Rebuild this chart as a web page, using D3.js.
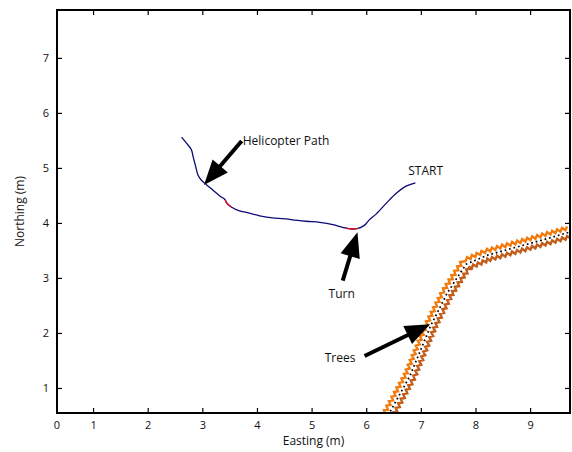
<!DOCTYPE html>
<html>
<head>
<meta charset="utf-8">
<script src="https://cdn.jsdelivr.net/npm/d3@7"></script>
<style>
  body { margin: 0; background: #fff; }
  text { font-family: "Open Sans", "Noto Sans", sans-serif; }
</style>
</head>
<body>
<div id="chart"></div>
<script>
// axis limits and ticks (metres)
var xLimits = [0.34, 9.73];
var yLimits = [0.545, 7.87];
var xTicks = [1, 2, 3, 4, 5, 6, 7, 8, 9];
var yTicks = [1, 2, 3, 4, 5, 6, 7];

// helicopter path, easting / northing
var pathEast  = [2.62, 2.71, 2.80, 2.83, 2.88, 2.92, 2.98, 3.08, 3.20, 3.32, 3.42, 3.44, 3.53, 3.68, 3.81, 4.05, 4.29, 4.57, 4.63, 4.90, 5.15, 5.39, 5.57, 5.73, 5.85, 5.97, 6.06, 6.18, 6.37, 6.55, 6.73, 6.90];
var pathNorth = [5.56, 5.45, 5.33, 5.21, 5.02, 4.87, 4.78, 4.69, 4.59, 4.49, 4.42, 4.37, 4.29, 4.22, 4.19, 4.13, 4.09, 4.07, 4.06, 4.03, 4.01, 3.97, 3.92, 3.89, 3.90, 3.96, 4.06, 4.16, 4.36, 4.54, 4.67, 4.73];

// short red stretches on the path
var redEast  = [[3.42, 3.44, 3.53], [5.62, 5.73, 5.85]];
var redNorth = [[4.42, 4.37, 4.29], [3.91, 3.89, 3.90]];

// tree line
var treeEast  = [6.40, 6.80, 7.18, 7.48, 7.72, 7.83, 8.21, 8.64, 9.19, 9.75];
var treeNorth = [0.50, 1.22, 2.13, 2.72, 3.09, 3.25, 3.41, 3.53, 3.68, 3.84];

// annotations: label position, arrow tail and tip
var labels    = ["Helicopter Path", "START", "Turn", "Trees"];
var labelPos  = [[3.74, 5.42], [6.77, 4.87], [5.31, 2.64], [5.24, 1.47]];
var arrowTail = [[3.72, 5.49], null, [5.57, 2.95], [5.97, 1.58]];
var arrowTip  = [[3.03, 4.69], null, [5.84, 3.83], [7.17, 2.16]];

var W = 572, H = 452;
var margin = {top: 10, right: 2, bottom: 39, left: 57};
var pw = W - margin.left - margin.right;
var ph = H - margin.top - margin.bottom;

var svg = d3.select("#chart").append("svg")
  .attr("width", W)
  .attr("height", H);

svg.append("defs").append("clipPath").attr("id", "plotclip")
  .append("rect").attr("width", pw).attr("height", ph + 1);

var g = svg.append("g")
  .attr("transform", "translate(" + margin.left + "," + margin.top + ")");

var x = d3.scaleLinear().domain(xLimits).range([0, pw]);
var y = d3.scaleLinear().domain(yLimits).range([ph, 0]);

var line = d3.line()
  .x(function(d) { return x(d[0]); })
  .y(function(d) { return y(d[1]); });

var smooth = d3.line()
  .x(function(d) { return x(d[0]); })
  .y(function(d) { return y(d[1]); })
  .curve(d3.curveCatmullRom);

var plot = g.append("g").attr("clip-path", "url(#plotclip)");

// TREES
var treePts = d3.zip(treeEast, treeNorth);
var treeCenter = plot.append("path")
  .attr("d", line(treePts))
  .attr("fill", "none")
  .attr("stroke", "none");

// zigzag borders on each side of the tree line
var node = treeCenter.node();
var L = node.getTotalLength();
var step = 2.6;
var sides = [{s: 1, color: "#f27a0c"}, {s: -1, color: "#c25c18"}];
sides.forEach(function(side) {
  var pts = [];
  for (var i = 0, t = 0; t <= L; i++, t += step) {
    var p = node.getPointAtLength(t);
    var a = node.getPointAtLength(Math.max(0, t - 1.5));
    var b = node.getPointAtLength(Math.min(L, t + 1.5));
    var dx = b.x - a.x, dy = b.y - a.y;
    var len = Math.sqrt(dx * dx + dy * dy) || 1;
    var nx = dy / len, ny = -dx / len;
    var off = side.s * (4.6 + (i % 2 ? 1.6 : -1.6));
    pts.push([p.x + nx * off, p.y + ny * off]);
  }
  plot.append("path")
    .attr("d", d3.line()(pts))
    .attr("fill", "none")
    .attr("stroke", side.color)
    .attr("stroke-width", 2.4)
    .attr("stroke-linejoin", "miter");
});

// tree dots
plot.append("path")
  .attr("d", line(treePts))
  .attr("fill", "none")
  .attr("stroke", "#000")
  .attr("stroke-width", 1.7)
  .attr("stroke-dasharray", "1.7 2.9");

// HELICOPTER PATH
plot.append("path")
  .attr("d", smooth(d3.zip(pathEast, pathNorth)))
  .attr("fill", "none")
  .attr("stroke", "#0a0a78")
  .attr("stroke-width", 1.3);

redEast.forEach(function(e, k) {
  plot.append("path")
    .attr("d", smooth(d3.zip(e, redNorth[k])))
    .attr("fill", "none")
    .attr("stroke", "#e0101c")
    .attr("stroke-width", 1.4);
});

// ANNOTATIONS
var ann = g.append("g");
labels.forEach(function(txt, k) {
  ann.append("text")
    .attr("x", x(labelPos[k][0]))
    .attr("y", y(labelPos[k][1]))
    .attr("font-size", 12)
    .attr("fill", "#111")
    .text(txt);

  if (arrowTail[k]) {
    var x0 = x(arrowTail[k][0]), y0 = y(arrowTail[k][1]);
    var x1 = x(arrowTip[k][0]), y1 = y(arrowTip[k][1]);
    var dx = x1 - x0, dy = y1 - y0;
    var len = Math.sqrt(dx * dx + dy * dy);
    var ux = dx / len, uy = dy / len;
    var headLen = 25, headHalf = 10;
    var bx = x1 - ux * headLen, by = y1 - uy * headLen;
    ann.append("line")
      .attr("x1", x0).attr("y1", y0)
      .attr("x2", bx + ux * 2).attr("y2", by + uy * 2)
      .attr("stroke", "#000")
      .attr("stroke-width", 4);
    ann.append("polygon")
      .attr("points", [
        [x1, y1],
        [bx - uy * headHalf, by + ux * headHalf],
        [bx + uy * headHalf, by - ux * headHalf]
      ].join(" "))
      .attr("fill", "#000");
  }
});

// AXES
var fmt = d3.format("d");
var xAxis = g.append("g")
  .attr("transform", "translate(0," + ph + ")")
  .call(d3.axisBottom(x).tickValues(xTicks).tickSize(-5).tickPadding(8).tickFormat(fmt));
g.append("g")
  .call(d3.axisTop(x).tickValues(xTicks).tickSize(-5).tickFormat(""));
g.append("g")
  .call(d3.axisLeft(y).tickValues(yTicks).tickSize(-5).tickPadding(8).tickFormat(fmt));
g.append("g")
  .attr("transform", "translate(" + pw + ",0)")
  .call(d3.axisRight(y).tickValues(yTicks).tickSize(-5).tickFormat(""));

g.selectAll(".domain").remove();
g.selectAll(".tick line").attr("stroke", "#000").attr("stroke-width", 1.2);
g.selectAll(".tick text")
  .attr("font-size", 11)
  .attr("fill", "#111")
  .style("font-family", "'Open Sans', sans-serif");

// the lone "0" at the lower-left corner
xAxis.append("text")
  .attr("x", 0)
  .attr("y", 8)
  .attr("dy", "0.71em")
  .attr("text-anchor", "middle")
  .attr("font-size", 11)
  .attr("fill", "#111")
  .text("0");

// frame
g.append("rect")
  .attr("width", pw)
  .attr("height", ph)
  .attr("fill", "none")
  .attr("stroke", "#000")
  .attr("stroke-width", 2);

// axis titles
g.append("text")
  .attr("x", pw / 2)
  .attr("y", ph + 32)
  .attr("text-anchor", "middle")
  .attr("font-size", 12)
  .attr("fill", "#111")
  .text("Easting (m)");

g.append("text")
  .attr("transform", "translate(" + (-33) + "," + (ph / 2) + ") rotate(-90)")
  .attr("text-anchor", "middle")
  .attr("font-size", 12)
  .attr("fill", "#111")
  .text("Northing (m)");
</script>
</body>
</html>
